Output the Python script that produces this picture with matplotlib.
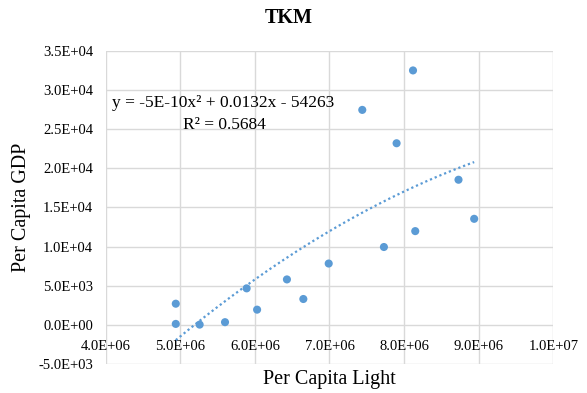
import matplotlib.pyplot as plt
import numpy as np
from matplotlib.ticker import FuncFormatter, MultipleLocator

# Dữ liệu
light = [4.94e6, 4.94e6, 5.26e6, 5.60e6, 5.89e6, 6.03e6, 6.43e6, 6.65e6,
         6.99e6, 7.44e6, 7.73e6, 7.90e6, 8.12e6, 8.15e6, 8.73e6, 8.94e6]
gdp = [2700, 120, 30, 340, 4660, 1940, 5800, 3300,
       7830, 27450, 9940, 23190, 32490, 11970, 18530, 13540]

blue = '#5B9BD5'
plt.rcParams['font.family'] = ['Liberation Serif', 'DejaVu Serif']


def sci(v, pos):
    m, e = f"{v:.1E}".split('E')
    return f"{m}E{e[0]}{int(e[1:]):02d}"


fig = plt.figure(figsize=(5.87, 3.93), dpi=100)
ax = fig.add_axes([0.180, 0.0738, 0.7625, 0.797])

ax.scatter(light, gdp, s=34, color=blue, zorder=3, edgecolors='none')

# Đường xu hướng bậc 2
coef = np.polyfit(light, gdp, 2)
xs = np.linspace(min(light), max(light), 200)
ax.plot(xs, np.polyval(coef, xs), color=blue, linestyle=(0, (1, 1.3)), linewidth=1.6, zorder=2)

ax.set_xlim(4e6, 1e7)
ax.set_ylim(-5e3, 3.5e4)
ax.xaxis.set_major_locator(MultipleLocator(1e6))
ax.yaxis.set_major_locator(MultipleLocator(5e3))
ax.xaxis.set_major_formatter(FuncFormatter(sci))
ax.yaxis.set_major_formatter(FuncFormatter(sci))
ax.grid(True, color='#D9D9D9', linewidth=1)
ax.set_axisbelow(True)
for s in ax.spines.values():
    s.set_visible(False)
# trục hoành cắt tại y = 0 như Excel
ax.spines['bottom'].set_position(('data', 0))
ax.tick_params(length=0, labelsize=10.5)
ax.tick_params(axis='x', pad=11)
ax.tick_params(axis='y', pad=9)

fig.text(289 / 587, 1 - 18 / 393, 'TKM', fontsize=14.5, fontweight='bold', ha='center', va='center')
ax.set_xlabel('Per Capita Light', fontsize=14.5, va='center')
ax.xaxis.set_label_coords(0.5, -0.051)
ax.set_ylabel('Per Capita GDP', fontsize=14.5, va='center')
ax.yaxis.set_label_coords(-0.1877, 0.5)

fig.text(112 / 587, 1 - 103 / 393, 'y = -5E-10x² + 0.0132x - 54263', fontsize=12.5, ha='left', va='center')
fig.text(224 / 587, 1 - 125 / 393, 'R² = 0.5684', fontsize=12.5, ha='center', va='center')

fig.savefig('out.png', dpi=100)
